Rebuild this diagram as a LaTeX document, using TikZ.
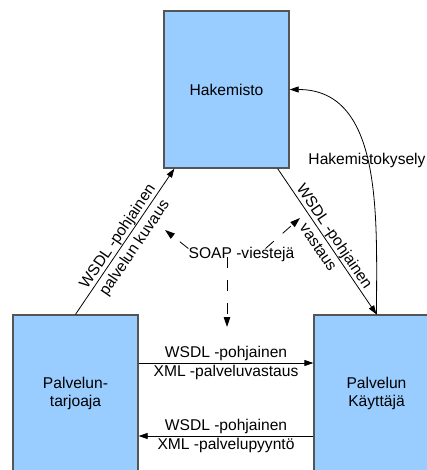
\documentclass[tikz,border=0pt]{standalone}
\usepackage{fontspec}
\setmainfont{Liberation Sans}
\usetikzlibrary{arrows.meta,calc}
\definecolor{boxfill}{RGB}{153,204,255}
\definecolor{boxline}{RGB}{85,85,85}
\begin{document}
\begin{tikzpicture}[x=1pt,y=-1pt,
  every node/.style={font=\fontsize{15.6}{17.5}\selectfont},
  box/.style={draw=boxline,fill=boxfill,line width=1.3pt,minimum width=125pt,minimum height=157pt,inner sep=0pt,align=center},
  arr/.style={line width=0.8pt,-{Triangle[length=9pt,width=6pt]}},
  dasharr/.style={line width=0.8pt,dash pattern=on 11pt off 12pt,-{Triangle[length=10pt,width=6.5pt]}},
  lab/.style={inner sep=1.75pt}]
\useasboundingbox (0,0) rectangle (427,470);
\node[box] (hak) at (226.5,89.5) {Hakemisto};
\node[box] (tar) at (75.5,393.5) {Palvelun-\\tarjoaja};
\node[box] (kay) at (376.5,393.5) {Palvelun\\Käyttäjä};

% left diagonal
\draw[arr] (tar.north) -- ($(hak.south west)+(11,0)$)
  node[midway,sloped,above,inner sep=0.5pt] {WSDL -pohjainen}
  node[midway,sloped,below,inner sep=4.4pt] {palvelun kuvaus};
% right diagonal
\draw[arr] ($(hak.south east)+(-12,0)$) -- (kay.north)
  node[midway,sloped,above,inner sep=0.4pt] {WSDL -pohjainen}
  node[midway,sloped,below,inner sep=5pt] {vastaus};
% curve
\draw[arr] (kay.north) to[out=90,in=0] (hak.east);
\node[inner sep=0pt] (kys) at (367,160) {Hakemistokysely};

% horizontal arrows
\draw[arr] (tar.east |- 0,363) -- (kay.west |- 0,363)
  node[midway,above,lab] {WSDL -pohjainen}
  node[midway,below,lab] {XML -palveluvastaus};
\draw[arr] (kay.west |- 0,436) -- (tar.east |- 0,436)
  node[midway,above,lab] {WSDL -pohjainen}
  node[midway,below,lab] {XML -palvelupyyntö};

% SOAP
\node[inner sep=0pt] (soap) at (241.5,254) {SOAP -viestejä};
\coordinate (s1) at (165,230);
\coordinate (s2) at (300,218);
\coordinate (s3) at (227,327);
\draw[dasharr] ($(soap.north west)+(0,2)$) -- (s1);
\draw[dasharr] ($(soap.north)+(24,2)$) -- (s2);
\draw[dasharr] ($(soap.south -| s3)+(0,-4)$) -- (s3);
\end{tikzpicture}
\end{document}
